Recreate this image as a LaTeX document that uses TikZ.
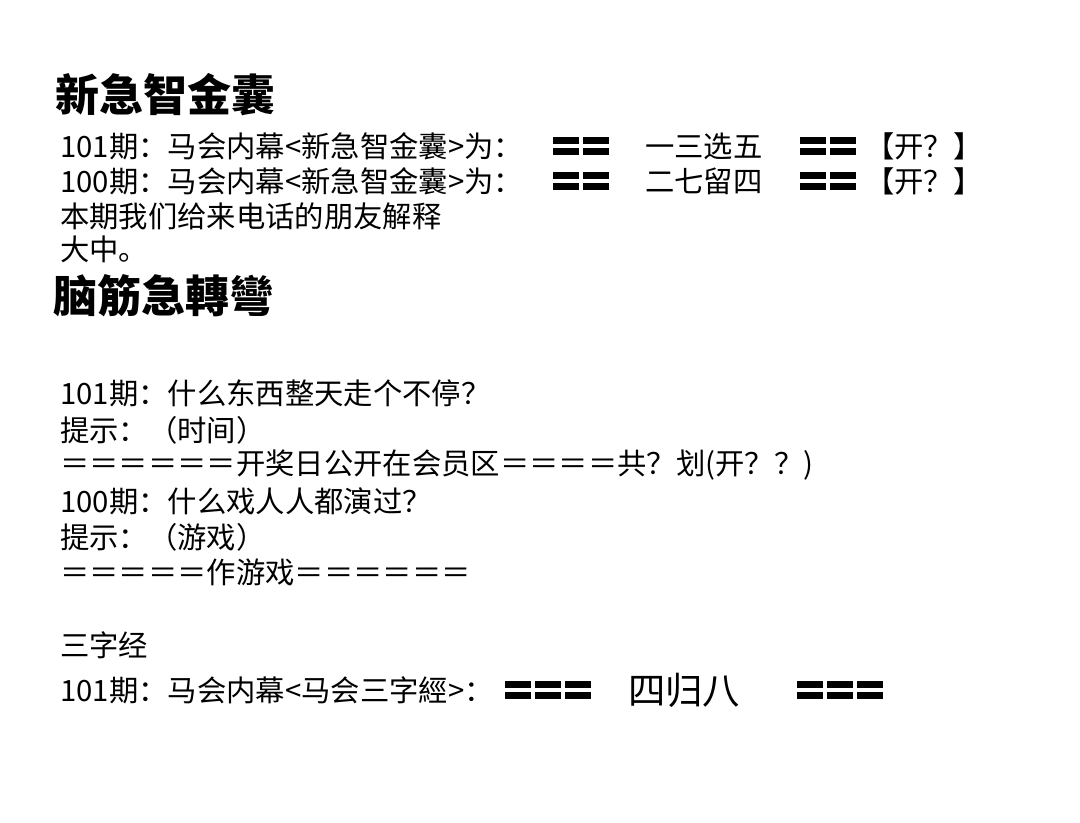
\documentclass[tikz,border=0pt]{standalone}
\usepackage{fontspec}
\newfontfamily\cjk{Noto Sans CJK SC}
\begin{document}
\begin{tikzpicture}[x=0.75pt,y=-0.75pt,
  txt/.style={anchor=west,inner sep=0pt,font=\cjk\fontsize{22}{23}\selectfont},
  ttl/.style={anchor=west,inner sep=0pt,font=\cjk\bfseries\fontsize{33}{34}\selectfont}]
\useasboundingbox (0,0) rectangle (1080,823);
\newcommand{\blk}[3]{% x, ycenter, count
  \foreach \i in {1,...,#3}{
    \fill ({#1+(\i-1)*30},{#2-9}) rectangle ({#1+(\i-1)*30+26},{#2-2});
    \fill ({#1+(\i-1)*30},{#2+2}) rectangle ({#1+(\i-1)*30+26},{#2+9});}}
\node[ttl] (t1) at (55,95) {新急智金囊};
\node[txt] (a1) at (60,146) {101期：马会内幕<新急智金囊>为：};
\blk{553}{146}{2}
\node[txt] (a2) at (645,146) {一三选五};
\blk{800}{146}{2}
\node[txt] (a3) at (865,146) {【开？】};
\node[txt] (b1) at (60,181) {100期：马会内幕<新急智金囊>为：};
\blk{553}{181}{2}
\node[txt] (b2) at (645,181) {二七留四};
\blk{800}{181}{2}
\node[txt] (b3) at (865,181) {【开？】};
\node[txt] (c1) at (60,216) {本期我们给来电话的朋友解释};
\node[txt] (c2) at (60,249) {大中。};
\node[ttl] (t2) at (53,296) {脑筋急轉彎};
\node[txt] (d1) at (60,393) {101期：什么东西整天走个不停？};
\node[txt] (d2) at (60,430) {提示：（时间）};
\node[txt] (d3) at (60,465) {＝＝＝＝＝＝开奖日公开在会员区＝＝＝＝共？划(开？？)};
\node[txt] (e1) at (60,501) {100期：什么戏人人都演过？};
\node[txt] (e2) at (60,537) {提示：（游戏）};
\node[txt] (e3) at (60,572) {＝＝＝＝＝作游戏＝＝＝＝＝＝};
\node[txt] (f1) at (60,645) {三字经};
\node[txt] (f2) at (60,690) {101期：马会内幕<马会三字經>：};
\blk{505}{690}{3}
\node[txt,font=\cjk\fontsize{28}{29}\selectfont] (f3) at (628,690) {四归八};
\blk{797}{690}{3}
\end{tikzpicture}
\end{document}
